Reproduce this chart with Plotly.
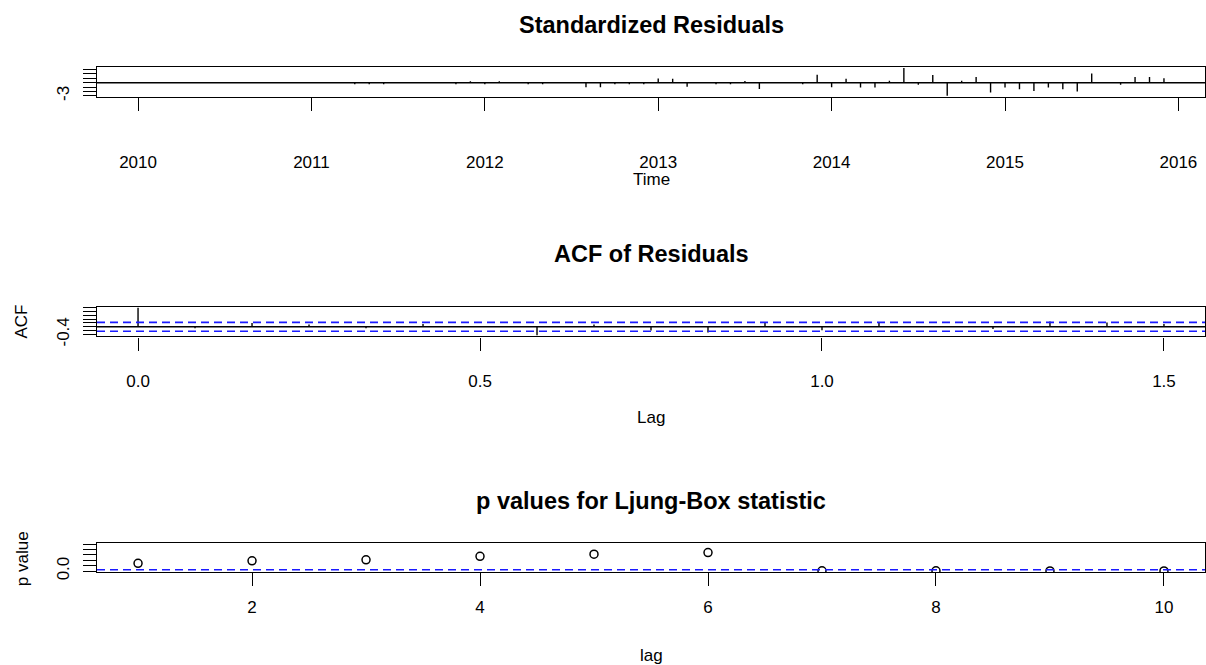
import plotly.graph_objects as go

W, H = 1206, 665
H_EFF = 656  # effective drawing height observed in the renderer

# ---------------- data ----------------
n_obs = 72
start_year = 2010
freq = 12
std_resid = [0.0, 0.0, 0.0, 0.0, 0.0, 0.0, 0.0, 0.0, 0.0, 0.0, 0.0, 0.0,
             0.0, 0.0, 0.0, -0.35, -0.35, -0.35, 0.05, 0.0, -0.05, 0.05, -0.35, 0.35,
             -0.35, 0.35, 0.05, -0.35, -0.35, 0.05, -0.05, -1.0, -1.0, -0.35, -0.35, -0.35,
             0.95, 0.9, -0.9, 0.05, -0.35, -0.35, 0.4, -1.4, 0.05, -0.05, -0.35, 1.8,
             -1.0, 0.9, -1.1, -1.1, 0.45, 3.35, -0.45, 1.75, -2.95, 0.45, 1.3, -2.2,
             -1.1, -1.5, -1.85, -1.1, -1.5, -2.0, 2.1, 0.05, -0.45, 1.3, 1.3, 1.0]
res_time = [start_year + i / freq for i in range(len(std_resid))]

acf_lag_months = list(range(19))
acf_vals = [1.0, -0.08, 0.2, 0.12, -0.08, 0.14, 0.01, -0.45, 0.12, -0.2,
            -0.3, 0.24, -0.18, 0.24, -0.01, -0.12, 0.27, 0.22, 0.15]
acf_lags = [m / freq for m in acf_lag_months]

lb_lags = [1, 2, 3, 4, 5, 6, 7, 8, 9, 10]
lb_pvals = [0.29, 0.38, 0.42, 0.55, 0.63, 0.69, 0.01, 0.008, 0.006, 0.005]

res_xticks = [2010, 2011, 2012, 2013, 2014, 2015, 2016]
res_yticks = [-3, -2, -1, 0, 1, 2, 3]
res_ytext = ["-3", "", "", "", "", "", ""]
acf_xticks = [0.0, 0.5, 1.0, 1.5]
acf_xtext = ["0.0", "0.5", "1.0", "1.5"]
acf_yticks = [-0.4, -0.2, 0.0, 0.2, 0.4, 0.6, 0.8, 1.0]
acf_ytext = ["-0.4", "", "", "", "", "", "", ""]
lb_xticks = [2, 4, 6, 8, 10]
lb_yticks = [0.0, 0.2, 0.4, 0.6, 0.8, 1.0]
lb_ytext = ["0.0", "", "", "", "", ""]

clim = 1.96 / n_obs ** 0.5
pval_line = 0.05


def padded(lo, hi, f=0.04):
    s = hi - lo
    return [lo - f * s, hi + f * s]


def stems(xv, yv):
    xs, ys = [], []
    for a, b in zip(xv, yv):
        xs += [a, a, None]
        ys += [0, b, None]
    return xs, ys


FONT = "Liberation Sans, Arial, sans-serif"
BLACK = "#000000"
BLUE = "#1A1AFF"

fig = go.Figure()

rx, ry = stems(res_time, std_resid)
fig.add_trace(go.Scatter(x=rx, y=ry, mode="lines", line=dict(color=BLACK, width=1.4),
                         xaxis="x", yaxis="y", showlegend=False, hoverinfo="skip"))
ax, ay = stems(acf_lags, acf_vals)
fig.add_trace(go.Scatter(x=ax, y=ay, mode="lines", line=dict(color=BLACK, width=1.4),
                         xaxis="x2", yaxis="y2", showlegend=False, hoverinfo="skip"))
fig.add_trace(go.Scatter(x=lb_lags, y=lb_pvals, mode="markers",
                         marker=dict(symbol="circle-open", size=8, color=BLACK,
                                     line=dict(width=1.5, color=BLACK)),
                         xaxis="x3", yaxis="y3", showlegend=False))

xdom = [97 / W, 1205 / W]


def ydom(top, bot):
    return [1 - bot / H_EFF, 1 - top / H_EFF]


common = dict(showline=True, mirror=True, linecolor=BLACK, linewidth=1.3,
              ticks="outside", ticklen=13, tickwidth=1.3, tickcolor=BLACK,
              showgrid=False, zeroline=False,
              tickfont=dict(family=FONT, size=17, color=BLACK))

acf_ylim = [min(min(acf_vals), -clim), max(max(acf_vals), clim)]

fig.update_layout(
    width=W, height=H, margin=dict(l=0, r=0, t=0, b=0),
    paper_bgcolor="white", plot_bgcolor="white",
    font=dict(family=FONT, color=BLACK),
    xaxis=dict(domain=xdom, anchor="y", range=padded(min(res_time), max(res_time)),
               tickvals=res_xticks, ticklabelstandoff=37, **common),
    yaxis=dict(domain=ydom(67, 97), anchor="x", range=padded(min(std_resid), max(std_resid)),
               tickvals=res_yticks, ticktext=res_ytext, tickangle=-90,
               ticklabelstandoff=7, **common),
    xaxis2=dict(domain=xdom, anchor="y2", range=padded(min(acf_lags), max(acf_lags)),
                tickvals=acf_xticks, ticktext=acf_xtext, ticklabelstandoff=16, **common),
    yaxis2=dict(domain=ydom(307, 337), anchor="x2", range=padded(*acf_ylim),
                tickvals=acf_yticks, ticktext=acf_ytext, tickangle=-90,
                ticklabelstandoff=7, **common),
    xaxis3=dict(domain=xdom, anchor="y3", range=padded(min(lb_lags), max(lb_lags)),
                tickvals=lb_xticks, ticklabelstandoff=6, **common),
    yaxis3=dict(domain=ydom(544, 573), anchor="x3", range=padded(0, 1),
                tickvals=lb_yticks, ticktext=lb_ytext, tickangle=-90,
                ticklabelstandoff=7, **common),
)

shapes = [
    dict(type="line", xref="x domain", yref="y", x0=0, x1=1, y0=0, y1=0,
         line=dict(color=BLACK, width=1.4)),
    dict(type="line", xref="x2 domain", yref="y2", x0=0, x1=1, y0=0, y1=0,
         line=dict(color=BLACK, width=1.4)),
    dict(type="line", xref="x2 domain", yref="y2", x0=0, x1=1, y0=clim, y1=clim,
         line=dict(color=BLUE, width=1.6, dash="8px,5px")),
    dict(type="line", xref="x2 domain", yref="y2", x0=0, x1=1, y0=-clim, y1=-clim,
         line=dict(color=BLUE, width=1.6, dash="8px,5px")),
    dict(type="line", xref="x3 domain", yref="y3", x0=0, x1=1, y0=pval_line, y1=pval_line,
         line=dict(color=BLUE, width=1.6, dash="8px,5px")),
]
fig.update_layout(shapes=shapes)


def ann(text, xpx, ypx, size=17, bold=False, angle=0):
    return dict(text=f"<b>{text}</b>" if bold else text, x=xpx / W, y=1 - ypx / H_EFF,
                xref="paper", yref="paper", xanchor="center", yanchor="middle",
                showarrow=False, textangle=angle,
                font=dict(family=FONT, size=size, color=BLACK))


annotations = [
    ann("Standardized Residuals", 651, 25, size=23.5, bold=True),
    ann("Time", 651, 180),
    ann("ACF of Residuals", 651, 254, size=23.5, bold=True),
    ann("Lag", 651, 418),
    ann("ACF", 22, 322, angle=-90),
    ann("p values for Ljung-Box statistic", 651, 502, size=23.5, bold=True),
    ann("lag", 651, 656),
    ann("p value", 22, 560, angle=-90),
]
fig.update_layout(annotations=annotations)

fig.write_html("out.html")
